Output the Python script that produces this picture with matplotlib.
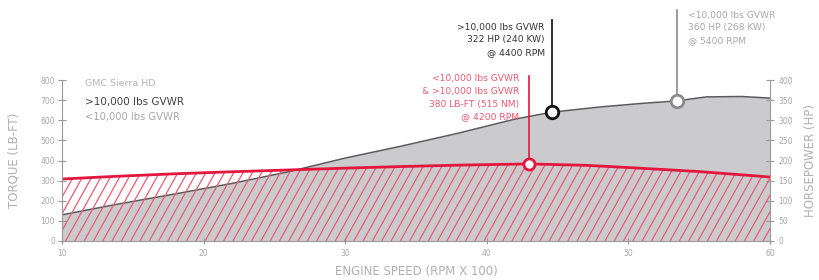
import numpy as np
import matplotlib.pyplot as plt
from matplotlib.collections import LineCollection

# torque curve (lb-ft), same for both GVWR ratings
torque_rpm = [10, 14, 18, 22, 26, 30, 34, 38, 43, 47, 50, 55, 60]
torque = [308, 322, 334, 344, 353, 362, 370, 377, 383, 376, 365, 345, 318]

# horsepower curve
hp_rpm = [10, 14, 18, 22, 26, 30, 34, 38, 42, 44.6, 48, 51, 53.4, 55.5, 58, 60]
hp = [65, 92, 117, 143, 172, 206, 236, 268, 303, 320, 333, 342, 348, 358, 359, 355]

# highlighted points
peak_torque_rpm, peak_torque = 43, 383
hp_heavy_rpm, hp_heavy = 44.6, 320
hp_light_rpm, hp_light = 53.4, 348

x_ticks = [10, 20, 30, 40, 50, 60]
torque_ticks = list(range(0, 801, 100))
hp_ticks = list(range(0, 401, 50))

RED = "#e3173e"
HATCH = "#ec5a74"
GREY_FILL = "#cbcbcd"
DARK = "#333333"
LIGHT = "#a8a8a8"
AXIS = "#9a9a9a"

fig = plt.figure(figsize=(8.2, 2.8), dpi=100)
ax = fig.add_axes([62 / 820, 39 / 280, 708 / 820, 161 / 280])
ax2 = ax.twinx()
ax.set_zorder(2)
ax2.set_zorder(1)
ax.patch.set_visible(False)

ax.set_xlim(10, 60)
ax.set_ylim(0, 800)
ax2.set_ylim(0, 400)

# horsepower area (grey)
ax2.fill_between(hp_rpm, hp, 0, color=GREY_FILL, lw=0)
ax2.plot(hp_rpm, hp, color="#5a5a5a", lw=1.1)

# torque area: red hatching clipped to the region under the curve
poly = ax.fill_between(torque_rpm, torque, 0, facecolor="none", lw=0)
px_w = 708 / 50.0   # pixels per rpm unit
step = 9.3 / px_w
run = (161 / 1.8) / px_w
segs = []
for x0 in np.arange(10 - run, 60 + step, step):
    segs.append([(x0, 0), (x0 + run, 800)])
lc = LineCollection(segs, colors=HATCH, linewidths=0.9)
ax.add_collection(lc)
lc.set_clip_path(poly.get_paths()[0], ax.transData)
ax.plot(torque_rpm, torque, color=RED, lw=2)

# annotation stems
ax.plot([peak_torque_rpm, peak_torque_rpm], [peak_torque, 820], color=RED,
        lw=1.2, clip_on=False, zorder=3)
ax.plot([hp_heavy_rpm, hp_heavy_rpm], [hp_heavy * 2, 1100], color="#222222",
        lw=1.3, clip_on=False, zorder=3)
ax.plot([hp_light_rpm, hp_light_rpm], [hp_light * 2, 1150], color="#8a8a8a",
        lw=1.2, clip_on=False, zorder=3)

# markers
ax.plot(peak_torque_rpm, peak_torque, "o", ms=8, mfc="white", mec=RED, mew=2,
        zorder=5, clip_on=False)
ax.plot(hp_heavy_rpm, hp_heavy * 2, "o", ms=9, mfc="white", mec="#111111",
        mew=2, zorder=5, clip_on=False)
ax.plot(hp_light_rpm, hp_light * 2, "o", ms=9, mfc="white", mec="#8a8a8a",
        mew=2, zorder=5, clip_on=False)

# annotation text
ax.text(44.1, 1085, ">10,000 lbs GVWR\n322 HP (240 KW)\n@ 4400 RPM", ha="right",
        va="top", fontsize=6.6, color=DARK, linespacing=1.55, clip_on=False)
ax.text(54.2, 1145, "<10,000 lbs GVWR\n360 HP (268 KW)\n@ 5400 RPM", ha="left",
        va="top", fontsize=6.6, color=LIGHT, linespacing=1.55, clip_on=False)
ax.text(42.3, 830, "<10,000 lbs GVWR\n& >10,000 lbs GVWR\n380 LB-FT (515 NM)\n@ 4200 RPM",
        ha="right", va="top", fontsize=6.6, color=HATCH, linespacing=1.55,
        clip_on=False)

# legend text block
ax.text(11.6, 782, "GMC Sierra HD", fontsize=6.8, color="#b5b5b5", va="center")
ax.text(11.6, 692, ">10,000 lbs GVWR", fontsize=7.5, color="#444444", va="center")
ax.text(11.6, 616, "<10,000 lbs GVWR", fontsize=7.2, color=LIGHT, va="center")

# axes styling
for a in (ax, ax2):
    for s in a.spines.values():
        s.set_visible(False)
ax.spines["left"].set_visible(True)
ax.spines["left"].set_color(AXIS)
ax.spines["bottom"].set_visible(True)
ax.spines["bottom"].set_color(AXIS)
ax2.spines["right"].set_visible(True)
ax2.spines["right"].set_color(AXIS)

ax.set_xticks(x_ticks)
ax.set_yticks(torque_ticks)
ax2.set_yticks(hp_ticks)
ax.tick_params(axis="y", direction="inout", length=6, color=AXIS,
               labelsize=5.5, labelcolor=LIGHT, pad=2)
ax.tick_params(axis="x", direction="inout", length=4, color=AXIS,
               labelsize=5.5, labelcolor=LIGHT, pad=4)
ax2.tick_params(axis="y", direction="inout", length=6, color=AXIS,
                labelsize=5.5, labelcolor=LIGHT, pad=3)

ax.set_xlabel("ENGINE SPEED (RPM X 100)", fontsize=8.5, color="#b0b0b0", labelpad=5)
ax.set_ylabel("TORQUE (LB-FT)", fontsize=8.5, color="#b0b0b0", labelpad=14)
ax2.set_ylabel("HORSEPOWER (HP)", fontsize=8.5, color="#b0b0b0", labelpad=8)

fig.savefig("out.png", dpi=100)
